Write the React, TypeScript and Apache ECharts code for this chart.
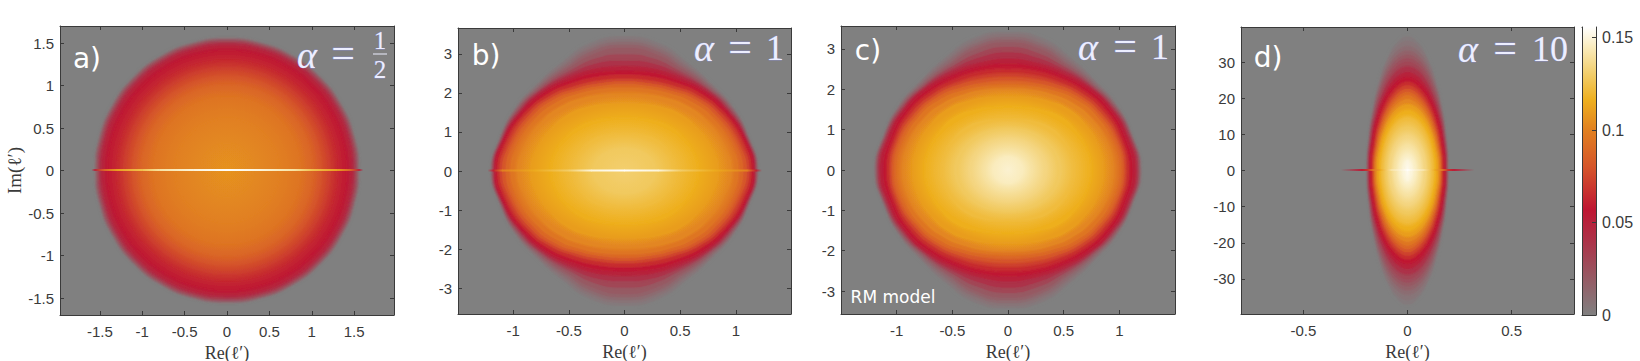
import React, { useEffect, useRef } from "react";
import * as echarts from "echarts";

// colour scale
const scaleValues = [0, 0.02, 0.04, 0.057, 0.08, 0.1, 0.116, 0.13, 0.145, 0.1557];
const scaleColors = [
  [128, 128, 128], [150, 90, 100], [172, 50, 72], [190, 22, 50], [213, 85, 42],
  [225, 128, 32], [238, 175, 30], [242, 205, 105], [250, 236, 190], [255, 255, 255],
];
const colorbarTicks = [0, 0.05, 0.1, 0.15];
const colorbarMax = 0.1557;

// contour tables: [density, radius at each ray], radii relative to the panel's reach
const rayAngles = [0, 15, 30, 45, 60, 75, 90];

const reachA = [1, 1];
const contoursA = [
  [0.003, 1.556], [0.006, 1.55], [0.01, 1.545], [0.015, 1.538], [0.02, 1.53], [0.025, 1.52], [0.03, 1.51], [0.035, 1.5],
  [0.04, 1.49], [0.045, 1.478], [0.05, 1.46], [0.058, 1.4], [0.065, 1.28], [0.072, 1.2], [0.08, 1.1], [0.088, 1.0],
  [0.095, 0.85], [0.1, 0.6], [0.103, 0.3],
].map(([v, r]) => [v, r, r, r, r, r, r, r]);

const reachB = [1.2, 3.44];
const contoursB = [
  [0.003, 0.995, 0.96, 0.94, 0.92, 0.935, 0.985, 1.0],
  [0.006, 0.992, 0.957, 0.935, 0.91, 0.92, 0.965, 0.98],
  [0.01, 0.99, 0.955, 0.93, 0.9, 0.905, 0.945, 0.96],
  [0.015, 0.987, 0.952, 0.925, 0.89, 0.885, 0.925, 0.94],
  [0.02, 0.985, 0.95, 0.92, 0.88, 0.87, 0.9, 0.915],
  [0.03, 0.98, 0.945, 0.91, 0.87, 0.845, 0.862, 0.865],
  [0.04, 0.975, 0.94, 0.9, 0.86, 0.825, 0.825, 0.815],
  [0.05, 0.97, 0.935, 0.89, 0.845, 0.8, 0.785, 0.765],
  [0.058, 0.96, 0.925, 0.875, 0.83, 0.78, 0.755, 0.73],
  [0.065, 0.95, 0.91, 0.86, 0.81, 0.755, 0.72, 0.705],
  [0.072, 0.935, 0.89, 0.845, 0.79, 0.73, 0.695, 0.685],
  [0.08, 0.915, 0.87, 0.825, 0.77, 0.71, 0.675, 0.665],
  [0.088, 0.885, 0.845, 0.8, 0.75, 0.69, 0.655, 0.645],
  [0.095, 0.85, 0.81, 0.77, 0.72, 0.665, 0.63, 0.615],
  [0.102, 0.8, 0.76, 0.72, 0.675, 0.625, 0.585, 0.57],
  [0.11, 0.7, 0.67, 0.63, 0.595, 0.55, 0.515, 0.5],
  [0.116, 0.55, 0.53, 0.5, 0.47, 0.43, 0.4, 0.39],
  [0.122, 0.38, 0.37, 0.35, 0.33, 0.3, 0.28, 0.27],
  [0.128, 0.22, 0.21, 0.2, 0.19, 0.18, 0.17, 0.17],
];

const reachC = [1.2, 3.42];
const contoursC = [
  [0.003, 0.995, 0.96, 0.94, 0.92, 0.94, 0.99, 1.0],
  [0.006, 0.992, 0.957, 0.935, 0.91, 0.925, 0.97, 0.985],
  [0.01, 0.99, 0.955, 0.93, 0.9, 0.91, 0.95, 0.965],
  [0.015, 0.985, 0.952, 0.925, 0.89, 0.89, 0.93, 0.945],
  [0.02, 0.98, 0.95, 0.92, 0.88, 0.875, 0.91, 0.925],
  [0.03, 0.975, 0.945, 0.91, 0.87, 0.855, 0.875, 0.89],
  [0.04, 0.965, 0.935, 0.9, 0.86, 0.835, 0.84, 0.85],
  [0.05, 0.955, 0.925, 0.89, 0.85, 0.81, 0.8, 0.805],
  [0.058, 0.93, 0.905, 0.875, 0.83, 0.785, 0.77, 0.765],
  [0.065, 0.905, 0.88, 0.85, 0.805, 0.76, 0.735, 0.72],
  [0.072, 0.885, 0.865, 0.83, 0.785, 0.735, 0.705, 0.69],
  [0.08, 0.87, 0.85, 0.81, 0.765, 0.715, 0.675, 0.655],
  [0.088, 0.85, 0.83, 0.79, 0.745, 0.69, 0.65, 0.63],
  [0.095, 0.82, 0.8, 0.77, 0.72, 0.665, 0.625, 0.605],
  [0.102, 0.78, 0.76, 0.73, 0.685, 0.635, 0.6, 0.58],
  [0.11, 0.71, 0.695, 0.665, 0.63, 0.58, 0.545, 0.525],
  [0.116, 0.62, 0.605, 0.58, 0.55, 0.5, 0.465, 0.45],
  [0.122, 0.49, 0.48, 0.465, 0.44, 0.405, 0.375, 0.36],
  [0.128, 0.38, 0.37, 0.36, 0.34, 0.32, 0.305, 0.3],
  [0.134, 0.28, 0.275, 0.265, 0.25, 0.24, 0.23, 0.23],
  [0.14, 0.18, 0.175, 0.17, 0.165, 0.16, 0.15, 0.15],
  [0.145, 0.1, 0.1, 0.1, 0.1, 0.1, 0.1, 0.1],
];

const reachD = [0.19, 37];
const contoursD = [
  [0.003, 1, 0.99, 0.98, 0.98, 0.98, 0.99, 1],
  [0.006, 0.998, 0.985, 0.97, 0.96, 0.955, 0.955, 0.96],
  [0.01, 0.995, 0.98, 0.96, 0.94, 0.93, 0.92, 0.92],
  [0.015, 0.99, 0.972, 0.947, 0.92, 0.9, 0.89, 0.89],
  [0.02, 0.985, 0.965, 0.935, 0.9, 0.875, 0.86, 0.86],
  [0.025, 0.98, 0.957, 0.922, 0.88, 0.85, 0.835, 0.835],
  [0.03, 0.975, 0.95, 0.91, 0.86, 0.825, 0.81, 0.81],
  [0.04, 0.965, 0.935, 0.885, 0.825, 0.78, 0.77, 0.765],
  [0.05, 0.95, 0.92, 0.86, 0.795, 0.75, 0.73, 0.73],
  [0.058, 0.925, 0.89, 0.83, 0.76, 0.71, 0.695, 0.69],
  [0.065, 0.895, 0.86, 0.795, 0.73, 0.68, 0.665, 0.66],
  [0.072, 0.87, 0.835, 0.77, 0.7, 0.655, 0.64, 0.635],
  [0.08, 0.85, 0.81, 0.74, 0.675, 0.63, 0.615, 0.61],
  [0.088, 0.83, 0.79, 0.72, 0.65, 0.605, 0.59, 0.585],
  [0.095, 0.815, 0.77, 0.695, 0.625, 0.58, 0.565, 0.56],
  [0.102, 0.8, 0.75, 0.67, 0.6, 0.555, 0.535, 0.53],
  [0.11, 0.77, 0.72, 0.64, 0.565, 0.52, 0.495, 0.49],
  [0.116, 0.72, 0.67, 0.59, 0.515, 0.47, 0.45, 0.44],
  [0.122, 0.65, 0.6, 0.53, 0.46, 0.42, 0.395, 0.39],
  [0.128, 0.56, 0.52, 0.45, 0.39, 0.345, 0.325, 0.32],
  [0.134, 0.45, 0.42, 0.36, 0.31, 0.275, 0.26, 0.26],
  [0.14, 0.33, 0.3, 0.26, 0.225, 0.2, 0.19, 0.19],
  [0.146, 0.2, 0.185, 0.16, 0.14, 0.125, 0.12, 0.12],
  [0.15, 0.08, 0.08, 0.08, 0.08, 0.08, 0.08, 0.08],
];

// the bright strip of real eigenvalues on y = 0: [x, density]
const stripA = [
  [-1.6, 0], [-1.56, 0.05], [-1.46, 0.085], [-1.3, 0.11], [-1.0, 0.125], [-0.8, 0.14], [-0.4, 0.15], [0, 0.155],
  [0.4, 0.15], [0.8, 0.14], [1.0, 0.125], [1.3, 0.11], [1.46, 0.085], [1.56, 0.05], [1.6, 0],
];
const stripB = [
  [-1.23, 0], [-1.18, 0.06], [-1.1, 0.1], [-0.8, 0.115], [-0.5, 0.13], [-0.3, 0.15], [0, 0.155],
  [0.3, 0.15], [0.5, 0.13], [0.8, 0.115], [1.1, 0.1], [1.18, 0.06], [1.23, 0],
];
const stripD = [
  [-0.32, 0], [-0.28, 0.02], [-0.22, 0.055], [-0.19, 0.07], [-0.17, 0.09], [-0.13, 0.115], [-0.08, 0.14], [0, 0.155],
  [0.08, 0.14], [0.13, 0.115], [0.17, 0.09], [0.19, 0.07], [0.22, 0.055], [0.28, 0.02], [0.32, 0],
];

const xTicksA = [-1.5, -1, -0.5, 0, 0.5, 1, 1.5];
const yTicksA = [-1.5, -1, -0.5, 0, 0.5, 1, 1.5];
const xTicksB = [-1, -0.5, 0, 0.5, 1];
const yTicksB = [-3, -2, -1, 0, 1, 2, 3];
const xTicksD = [-0.5, 0, 0.5];
const yTicksD = [-30, -20, -10, 0, 10, 20, 30];

const SERIF = '"Liberation Serif"';
const SANS = '"Liberation Sans"';
const ink = "#3a3a3a";

function colorOf(value: number): string {
  const v = Math.min(value, colorbarMax);
  const i = Math.max(0, scaleValues.findIndex((s) => s >= v) - 1);
  const t = Math.min(1, Math.max(0, (v - scaleValues[i]) / (scaleValues[i + 1] - scaleValues[i])));
  const c = scaleColors[i].map((a, k) => Math.round(a + (scaleColors[i + 1][k] - a) * t));
  return `rgb(${c[0]},${c[1]},${c[2]})`;
}

const panels = [
  { box: [60, 26, 334, 289], nameGap: 22, xr: [-1.97, 1.97], yr: [-1.7, 1.7], xt: xTicksA, yt: yTicksA, reach: reachA, rows: contoursA, strip: stripA, yName: "Im(\u2113\u2032)" },
  { box: [458, 28, 333, 286], nameGap: 24, xr: [-1.495, 1.495], yr: [-3.66, 3.66], xt: xTicksB, yt: yTicksB, reach: reachB, rows: contoursB, strip: stripB },
  { box: [841, 26, 334, 288], nameGap: 24, xr: [-1.5, 1.5], yr: [-3.57, 3.57], xt: xTicksB, yt: yTicksB, reach: reachC, rows: contoursC, strip: null },
  { box: [1241, 27, 333, 287], nameGap: 24, xr: [-0.8, 0.8], yr: [-39.7, 39.7], xt: xTicksD, yt: yTicksD, reach: reachD, rows: contoursD, strip: stripD },
];

function buildOption() {
  const grid: any[] = [];
  const xAxis: any[] = [];
  const yAxis: any[] = [];
  const series: any[] = [];
  const line = { show: true, onZero: false, lineStyle: { color: ink, width: 1 } };
  const tick = (values: number[]) => ({ show: true, inside: true, length: 4, customValues: values, lineStyle: { color: ink, width: 1 } });
  const label = { color: ink, fontFamily: SANS, fontSize: 15 };

  panels.forEach((p, i) => {
    grid.push({ left: p.box[0], top: p.box[1], width: p.box[2], height: p.box[3], show: true, backgroundColor: "#808080", borderWidth: 0, outerBoundsMode: "none" });
    xAxis.push(
      { type: "value", gridIndex: i, min: p.xr[0], max: p.xr[1], position: "bottom", z: 5, splitLine: { show: false }, axisLine: line, axisTick: tick(p.xt),
        axisLabel: { ...label, margin: 9, customValues: p.xt }, name: "Re(\u2113\u2032)", nameLocation: "middle", nameGap: p.nameGap,
        nameTextStyle: { fontFamily: SERIF, fontSize: 18, lineHeight: 18, color: ink } },
      { type: "value", gridIndex: i, min: p.xr[0], max: p.xr[1], position: "top", z: 5, splitLine: { show: false }, axisLine: line, axisTick: tick(p.xt), axisLabel: { show: false } },
    );
    yAxis.push(
      { type: "value", gridIndex: i, min: p.yr[0], max: p.yr[1], position: "left", z: 5, splitLine: { show: false }, axisLine: line, axisTick: tick(p.yt),
        axisLabel: { ...label, margin: 6, customValues: p.yt },
        ...(p.yName ? { name: p.yName, nameLocation: "middle", nameGap: 36, nameTextStyle: { fontFamily: SERIF, fontSize: 19, color: ink } } : {}) },
      { type: "value", gridIndex: i, min: p.yr[0], max: p.yr[1], position: "right", z: 5, splitLine: { show: false }, axisLine: line, axisTick: tick(p.yt), axisLabel: { show: false } },
    );
    const [rx, ry] = p.reach;
    const rows = p.rows;
    series.push({
      type: "custom", coordinateSystem: "cartesian2d", xAxisIndex: 2 * i, yAxisIndex: 2 * i, silent: true, clip: true, z: 2,
      data: rows,
      renderItem: (params: any, api: any) => {
        const radii = rayAngles.map((_a, k) => api.value(k + 1));
        const quad = rayAngles.map((a, k) => [rx * radii[k] * Math.cos((a * Math.PI) / 180), ry * radii[k] * Math.sin((a * Math.PI) / 180)]);
        const ring = [
          ...quad,
          ...quad.slice(0, -1).reverse().map(([x, y]) => [-x, y]),
          ...quad.slice(1).map(([x, y]) => [-x, -y]),
          ...quad.slice(1, -1).reverse().map(([x, y]) => [x, -y]),
        ];
        // each contour shades towards the colour of the next one inside it, with a
        // soft edge; where the shape dips inside its bounding ellipse the ramp ends early
        const next = rows[params.dataIndex + 1];
        const v = api.value(0);
        const dips = rayAngles.map((a, k) => {
          const t = (a * Math.PI) / 180;
          return radii[k] * Math.sqrt((Math.cos(t) / radii[0]) ** 2 + (Math.sin(t) / radii[6]) ** 2);
        });
        const slim = Math.min(1, ...dips);
        const ratio = next ? Math.min(1, (next[1] / radii[0] + next[7] / radii[6]) / 2) : 0;
        const stops = [
          { offset: ratio * slim, color: colorOf(next ? next[0] : v + 0.003) },
          { offset: slim, color: colorOf(v) },
          { offset: 1, color: colorOf(v) },
        ];
        return {
          type: "polygon",
          shape: { points: ring.map((q) => api.coord(q)), smooth: 0.5 },
          style: { fill: new echarts.graphic.RadialGradient(0.5, 0.5, 0.5, stops), shadowBlur: 3, shadowColor: colorOf(v) },
        };
      },
    });
    if (p.strip) {
      const strip = p.strip;
      series.push({
        type: "custom", coordinateSystem: "cartesian2d", xAxisIndex: 2 * i, yAxisIndex: 2 * i, silent: true, clip: true, z: 3,
        data: strip.slice(0, -1).map((s, k) => [s[0], strip[k + 1][0], s[1], strip[k + 1][1]]),
        renderItem: (_: any, api: any) => {
          const a = api.coord([api.value(0), 0]);
          const b = api.coord([api.value(1), 0]);
          return {
            type: "rect",
            shape: { x: a[0], y: a[1] - 1.5, width: b[0] - a[0] + 0.5, height: 2 },
            style: { fill: new echarts.graphic.LinearGradient(0, 0, 1, 0, [
              { offset: 0, color: colorOf(api.value(2)) }, { offset: 1, color: colorOf(api.value(3)) },
            ]) },
          };
        },
      });
    }
  });

  // colour bar
  grid.push({ left: 1582, top: 27, width: 14, height: 288, show: false, outerBoundsMode: "none" });
  xAxis.push({ type: "category", gridIndex: 4, data: ["density"], position: "bottom", axisLine: line, axisTick: { show: false }, axisLabel: { show: false } });
  xAxis.push({ type: "category", gridIndex: 4, data: ["density"], position: "top", axisLine: line, axisTick: { show: false }, axisLabel: { show: false } });
  yAxis.push({ type: "value", gridIndex: 4, min: 0, max: colorbarMax, position: "right", z: 5, splitLine: { show: false }, axisLine: line, axisTick: tick(colorbarTicks),
    axisLabel: { ...label, fontSize: 16, margin: 6, customValues: colorbarTicks } });
  yAxis.push({ type: "value", gridIndex: 4, min: 0, max: colorbarMax, position: "left", z: 5, splitLine: { show: false }, axisLine: line, axisTick: { show: false }, axisLabel: { show: false } });
  series.push({
    type: "bar", xAxisIndex: 8, yAxisIndex: 8, barWidth: "100%", silent: true, data: [colorbarMax],
    itemStyle: { color: new echarts.graphic.LinearGradient(0, 1, 0, 0, scaleValues.map((v) => ({ offset: v / colorbarMax, color: colorOf(v) }))) },
  });

  const white = (text: string, x: number, y: number, size = 28) => ({
    type: "text", x, y, z: 10, silent: true,
    style: { text, fill: "#fff", font: `${size}px "DejaVu Sans"`, textAlign: "center", textVerticalAlign: "middle" },
  });
  const math = (text: string, x: number, y: number, size = 36, italic = false) => ({
    type: "text", x, y, z: 10, silent: true,
    style: { text, fill: "#eceeff", stroke: "#8f93e6", lineWidth: 0.4, font: `${italic ? "italic " : ""}${size}px ${SERIF}`, textAlign: "center", textVerticalAlign: "middle" },
  });
  const graphic = [
    white("a)", 87, 58), white("b)", 486, 55), white("c)", 868, 50), white("d)", 1268, 57),
    white("RM model", 893, 297, 17),
    math("\u03b1", 307, 55, 38, true), math("=", 343, 53, 42), math("1", 380, 40, 25), math("2", 380, 69, 25),
    { type: "rect", z: 10, silent: true, shape: { x: 373, y: 53.5, width: 14, height: 1 }, style: { fill: "#eceeff" } },
    math("\u03b1", 704, 48, 38, true), math("=", 740, 47, 42), math("1", 775, 48, 36),
    math("\u03b1", 1088, 47, 38, true), math("=", 1125, 46, 42), math("1", 1160, 47, 36),
    math("\u03b1", 1468, 49, 38, true), math("=", 1505, 48, 42), math("10", 1550, 49, 36),
  ];

  return { animation: false, grid, xAxis, yAxis, series, graphic };
}

export default function App() {
  const ref = useRef<HTMLDivElement>(null);
  useEffect(() => {
    const chart = echarts.init(ref.current!, null, { renderer: "svg" });
    chart.setOption(buildOption() as any);
    return () => chart.dispose();
  }, []);
  return <div ref={ref} style={{ position: "absolute", left: 0, top: 0, width: 1640, height: 361 }} />;
}
